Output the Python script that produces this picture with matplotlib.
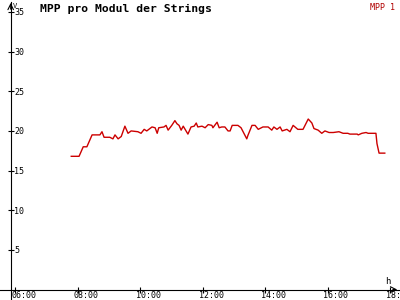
import numpy as np
import matplotlib
matplotlib.use("Agg")
import matplotlib.pyplot as plt
import matplotlib.transforms as mtransforms

# MPP pro Modul
times = ["07:48", "08:03", "08:11", "08:18", "08:28", "08:43", "08:47", "08:51",
         "09:02", "09:08", "09:12", "09:18", "09:24", "09:31", "09:37", "09:43",
         "09:56", "10:02", "10:08", "10:13", "10:23", "10:29", "10:33", "10:36",
         "10:46", "10:50", "10:54", "11:01", "11:07", "11:11", "11:15", "11:19",
         "11:23", "11:32", "11:38", "11:44", "11:48", "11:51", "11:59", "12:05",
         "12:11", "12:18", "12:20", "12:28", "12:32", "12:37", "12:43", "12:49",
         "12:53", "12:57", "13:08", "13:14", "13:25", "13:27", "13:35", "13:41",
         "13:47", "13:56", "14:06", "14:13", "14:17", "14:23", "14:29", "14:33",
         "14:42", "14:48", "14:54", "15:03", "15:13", "15:23", "15:30", "15:34",
         "15:42", "15:49", "15:55", "16:03", "16:11", "16:22", "16:30", "16:39",
         "16:43", "16:57", "16:59", "17:06", "17:14", "17:18", "17:33", "17:35",
         "17:39", "17:50"]
mpp1 = [16.8, 16.8, 18.0, 18.0, 19.5, 19.5, 19.9, 19.2,
        19.2, 19.0, 19.5, 19.0, 19.3, 20.6, 19.7, 20.0,
        19.9, 19.7, 20.2, 20.0, 20.5, 20.4, 19.7, 20.4,
        20.5, 20.7, 20.1, 20.7, 21.3, 20.9, 20.7, 20.1,
        20.6, 19.6, 20.5, 20.6, 21.0, 20.5, 20.6, 20.4,
        20.8, 20.7, 20.4, 21.1, 20.4, 20.5, 20.5, 20.0,
        20.0, 20.7, 20.7, 20.4, 19.0, 19.4, 20.7, 20.7,
        20.2, 20.5, 20.5, 20.1, 20.5, 20.2, 20.5, 20.0,
        20.2, 19.9, 20.7, 20.2, 20.2, 21.5, 21.0, 20.3,
        20.1, 19.7, 20.0, 19.8, 19.8, 19.9, 19.7, 19.7,
        19.6, 19.6, 19.5, 19.7, 19.8, 19.7, 19.7, 18.4,
        17.2, 17.2]

x_ticks = [6, 8, 10, 12, 14, 16, 18]
x_labels = ["06:00", "08:00", "10:00", "12:00", "14:00", "16:00", "18:"]
y_ticks = [5, 10, 15, 20, 25, 30, 35]


def to_hours(s):
    h, m = s.split(":")
    return int(h) + int(m) / 60.0


hours = [to_hours(t) for t in times]

fig = plt.figure(figsize=(4, 3), dpi=100)
ax = fig.add_axes([0, 0, 1, 1])
ax.set_xlim(5.52, 18.32)
ax.set_ylim(-1.32, 36.51)

ax.plot(hours, mpp1, color="#cc0000", lw=1.0)

x0 = 5.862
for s in ["top", "right"]:
    ax.spines[s].set_visible(False)
ax.spines["left"].set_position(("data", x0))
ax.spines["bottom"].set_position(("data", 0))
ax.spines["left"].set_bounds(-1.32, 36.3)
ax.spines["bottom"].set_bounds(5.52, 18.3)

ax.set_xticks(x_ticks)
ax.set_xticklabels(x_labels)
ax.set_yticks(y_ticks)
ax.set_yticklabels([str(v) for v in y_ticks])
ax.tick_params(axis="both", direction="inout", length=5, width=0.8,
               labelsize=6, labelfontfamily="DejaVu Sans Mono")
ax.tick_params(axis="x", pad=-1.5)
ax.tick_params(axis="y", pad=-5)
for lab in ax.get_yticklabels():
    lab.set_horizontalalignment("left")
off = mtransforms.ScaledTranslation(-4 / 100, 0, fig.dpi_scale_trans)
for lab in ax.get_xticklabels():
    lab.set_horizontalalignment("left")
    lab.set_transform(lab.get_transform() + off)

# arrow heads
ax.annotate("", xy=(x0, 36.5), xytext=(x0, 35.0),
            arrowprops=dict(arrowstyle="->", lw=0.8, color="black"))
ax.annotate("", xy=(18.32, 0), xytext=(18.0, 0),
            arrowprops=dict(arrowstyle="->", lw=0.8, color="black"))

fig.text(13 / 400, 1 - 6 / 300, "V", fontsize=5, family="DejaVu Sans Mono",
         va="center", ha="left")
fig.text(385 / 400, 1 - 281 / 300, "h", fontsize=6.5, family="DejaVu Sans Mono",
         va="center", ha="left")
fig.text(40 / 400, 1 - 9 / 300, "MPP pro Modul der Strings", fontsize=8.2,
         fontweight="bold", family="DejaVu Sans Mono", va="center", ha="left")
fig.text(395 / 400, 1 - 7 / 300, "MPP 1", fontsize=6, color="#b00000",
         family="DejaVu Sans Mono", va="center", ha="right")

fig.savefig("out.png", dpi=100)
